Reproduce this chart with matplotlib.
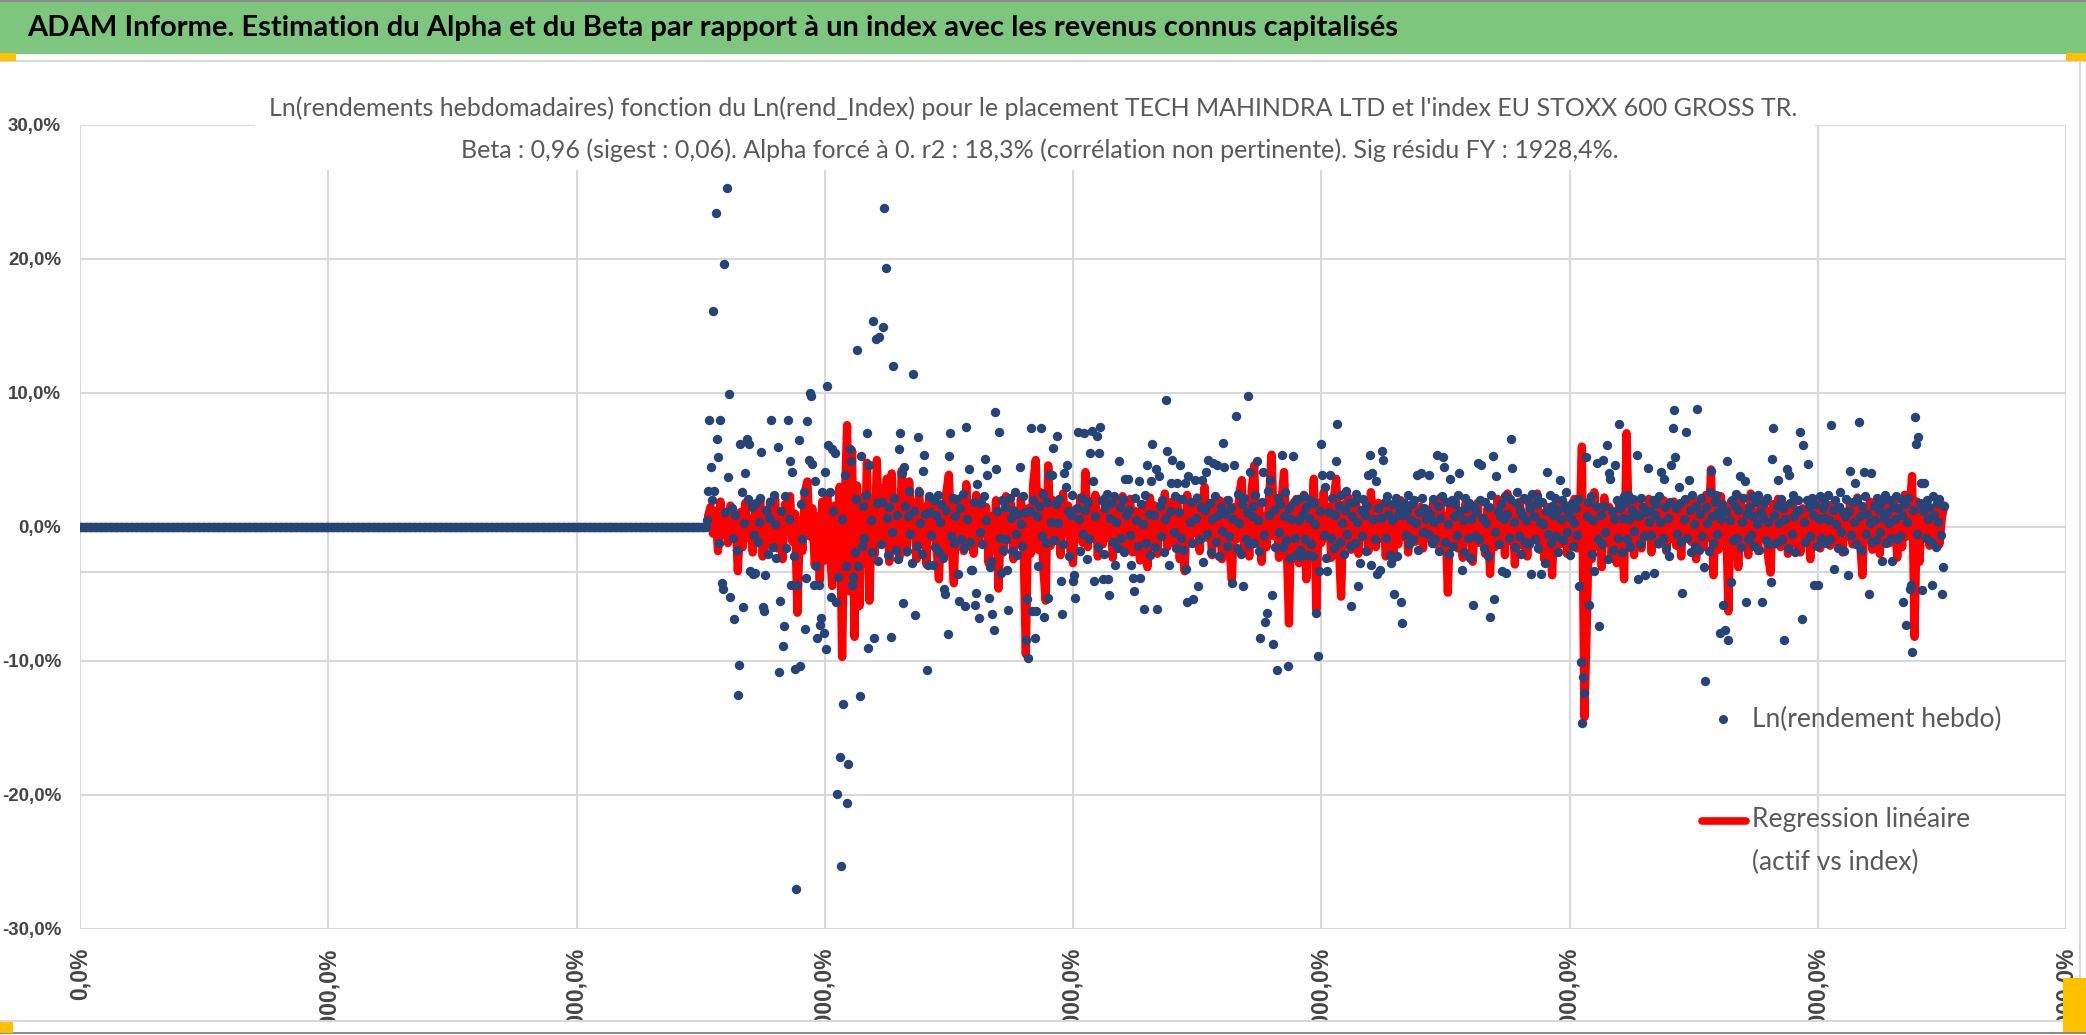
import numpy as np
import matplotlib
matplotlib.use("Agg")
import matplotlib.pyplot as plt
from matplotlib.lines import Line2D
from matplotlib.patches import Rectangle
from matplotlib.transforms import Bbox, TransformedBbox

plt.rcParams["font.family"] = ["Lato", "DejaVu Sans"]
NARROW = ["Liberation Sans Narrow", "Liberation Sans", "DejaVu Sans"]

W, H = 2086, 1035
BLUE = "#264478"
RED = "#ff0000"
GRID = "#d9d9d9"
TXT = "#595959"
TICK_TXT = "#454545"

# ── Data (all returns in %) ──────────────────────────────────────────────────
# flat part: no quotes yet, x = 0 .. 252 by half steps
flat_x_end = 252.0
flat_vals = [0.0] * 505

# Ln(rendement hebdo), x starts at 252.5, one value per half step
ln_rend_1 = [
    0.5, 2.7, 8.0, 4.5, 2.0, 16.1, 2.7, 23.4, 6.6, 5.2, -1.2, 8.0, -4.2, -4.6, 19.6, 1.1, 25.3, 3.7, 9.9, -5.2,
    1.4, -0.8, -6.9, 0.9, -1.7, -12.5, -10.3, 6.2, 2.6, -6.0, 0.3, 4.0, 6.6, 2.1, 6.2, -3.3, 1.5, -3.5, -0.6, -3.4,
    1.8, -1.1, 0.4, 2.2, 5.6, -6.0, -6.3, -3.6, 1.3, -2.0, 0.7, 1.9, 8.0, -1.5, 2.4, 0.2, -2.3, 6.0, -10.8, -5.5,
    1.2, -8.9, -7.4, 2.3, -1.6, 8.0, 0.6, 4.9, -4.3, 4.1, -2.2, -10.6, -27.0, -4.3, 6.5, -10.4, 1.7, -0.9, 2.6, -7.6,
    -3.8, 7.9, 5.0, 10.0, 9.8, 4.7, -4.3, 3.4, -2.9, -8.3, -4.3, -7.3, -6.8, 2.6, -7.9, 4.1, -9.1, 10.5, 6.1, 2.6,
    -5.2, 5.8, 1.2, 5.5, -5.6, -19.9, -3.7, -17.2, -25.3, 0.6, -13.2, 3.9, -2.9, -20.6, -17.7, 5.8, 4.9, -4.3, -3.7, -1.9,
    2.1, 13.2, -2.9, -12.6, 5.3, -1.4, 1.6, -0.8, 2.4, 7.0, -9.0, 4.6, 0.5, -1.9, 15.4, -8.3, 14.0, 1.8, -2.5, 14.2,
    -1.3, 1.9, 14.9, 23.8, 19.3, 0.7, -2.1, 1.5, -8.2, -0.4, 12.0, 2.2, -1.7, 0.9, -2.4, 5.8, 7.0, 4.0, -5.7, 4.5,
    1.6, -1.8, 0.8, 2.7, -0.5, -2.7, 11.4, 1.2, -6.6, -1.4, 6.7, 2.6, 0.3, -2.0, 4.2, 5.4, 1.0, -10.7, -2.8, 2.3,
    1.1, -0.6, -2.8, 2.0, -1.5, 0.9, 2.4, -1.9, 0.4, 1.7, -2.3, -4.6, -5.0, 1.3, -8.0, 5.3, 7.0, -0.7, 2.2, -1.2,
]
ln_rend_2 = [
    0.8, 2.1, -3.5, -5.5, 1.4, -0.9, 2.5, -1.6, -5.9, 7.5, 0.6, 4.3, -1.1, -3.2, -3.2, 1.9, -5.8, -4.9, 3.2, -6.8,
    -0.4, 1.8, -1.3, 2.3, 5.1, 0.5, 3.9, -5.3, -3.0, -2.5, -6.5, -7.7, 8.6, 4.3, 1.2, 7.1, -0.8, -3.4, 2.0, -1.7,
    1.5, -0.9, -3.2, -6.2, 2.2, 0.7, -1.8, 1.3, 2.6, -0.5, -2.1, 1.0, 4.5, 0.2, -1.4, 2.3, 1.1, -8.4, -5.4, -9.8,
    1.2, 7.4, -6.3, 2.0, -8.3, -6.3, 0.8, -2.9, 1.6, 7.4, -0.7, 2.5, -6.7, -1.2, 1.9, -5.3, 3.9, 0.4, 3.9, 5.9,
    -1.0, 1.7, 6.8, 0.3, 2.1, -4.0, -6.5, -1.3, 4.0, 3.0, 4.6, 1.2, -2.2, 0.9, 2.4, -4.0, -3.6, -5.3, 1.4, 7.1,
    0.6, -1.8, 2.2, -0.5, 7.0, 1.3, -2.4, 1.9, -0.9, 5.5, 7.2, 3.4, -4.0, 0.8, 6.8, -1.5, 5.5, 7.5, 2.0, -3.9,
    -2.0, 1.4, 2.5, -3.9, -5.1, 0.7, 1.8, -1.1, 2.3, -2.8, 0.4, -1.6, 4.9, 1.5, -0.8, 2.1, -1.9, 3.6, 0.9, 3.6,
    1.3, -0.6, -2.8, -3.8, -4.8, 2.2, 0.5, -1.4, 3.4, -3.8, 1.7, 0.2, -6.1, 2.4, -1.2, 4.6, 1.0, -2.1, 3.4, 6.2,
    0.9, -1.5, 4.3, -6.1, 3.8, 1.6, -0.7, 2.0, -1.9, 0.6, 9.5, 5.7, -2.8, 1.2, 3.3, 5.0, -0.4, 2.3, -1.6, 3.3,
    1.1, 4.6, -0.8, 2.1, -1.7, 3.3, -3.1, -5.6, 3.8, 0.4, 1.9, -1.2, -5.4, 3.5, 0.7, 2.2, -4.4, -0.9, 1.5, 3.5,
]
ln_rend_3 = [
    -2.6, 1.3, 4.1, -0.5, 5.0, 1.8, -1.9, 0.6, 4.8, 2.3, -1.1, 4.6, 0.9, -2.2, 1.5, -0.3, 6.3, 4.5, 1.0, -1.4,
    2.0, -0.7, 1.4, -4.2, 0.6, 4.6, 8.3, -1.6, 2.5, 0.3, -2.0, 1.7, -4.4, 2.2, -0.9, 1.1, 9.8, -1.3, 4.1, 0.8,
    1.6, -1.2, 2.4, 4.9, 0.5, -1.8, -8.3, 1.9, 4.1, -0.6, -7.1, -6.4, 2.7, 0.9, 3.5, -5.1, -8.7, 1.3, -1.5, -10.7,
    2.2, -0.4, 1.7, 5.4, -1.5, 0.8, 2.6, -1.0, -10.4, 1.4, -2.3, 0.6, 5.3, 1.9, -0.8, -2.1, 2.1, 0.5, -1.7, -2.2,
    1.0, 2.3, -0.9, 1.5, -2.1, 0.7, 2.0, -1.3, -2.2, 1.8, 0.2, -6.4, -9.6, -3.3, 1.2, 6.2, 3.9, -0.6, 3.0, -2.3,
    -3.3, 1.1, 3.9, -0.8, 2.2, -1.6, 0.9, 4.9, 7.7, 1.6, -1.1, 2.4, 0.3, -2.0, 1.3, 2.7, -0.5, 1.8, -1.4, -5.9,
    0.8, 1.9, -1.2, 2.5, 0.4, -4.4, -2.7, 1.3, -0.7, 2.1, 0.9, -1.8, 1.6, 3.9, 5.4, -2.8, 4.0, 0.6, -0.9, 3.4,
    -3.5, 1.4, -3.2, 0.7, 5.7, 5.0, 1.9, -0.8, 2.3, 1.0, -2.1, -2.7, 0.5, 1.7, -5.0, 2.2, -2.2, 0.9, 1.5, -5.6,
    -7.2, 0.9, 1.8, -0.6, 1.2, 2.4, -1.3, 0.5, 1.7, -0.9, 2.0, 0.3, 3.9, -1.7, 1.1, 4.0, 2.2, -0.4, 1.4, 0.6,
    1.3, -0.5, 3.9, 1.0, -1.2, 2.1, 0.4, -0.9, 5.4, 1.6, -1.8, 0.7, 2.3, 5.2, 4.5, -1.1, 1.9, 0.2, -2.0, 3.6,
]
ln_rend_4 = [
    2.0, -1.4, 0.8, 1.7, -0.6, 2.4, 4.0, 1.2, -3.2, 0.5, -1.9, 2.2, 1.4, -0.8, 1.8, -2.3, 0.6, -5.8, 1.5, -0.7,
    1.1, 4.8, -0.9, 2.0, 4.6, 0.7, -1.6, 1.9, 0.3, -2.2, 1.5, -6.7, 2.4, 5.3, -5.4, -0.4, 3.8, 1.2, -1.3, 0.8,
    1.7, -3.3, 0.6, 2.3, -3.4, 1.0, -0.8, 2.1, 6.6, 4.4, 0.4, -1.5, 1.8, 2.6, -0.7, 1.3, -2.0, 0.9, 2.2, -1.1,
    0.5, 2.0, -1.3, 1.4, -3.5, 2.5, 0.8, -0.9, 1.7, 2.3, -1.6, 0.4, -3.5, 1.9, 0.2, -2.7, 1.2, 4.1, -0.5, 2.4,
    -1.2, 1.6, 0.9, 2.2, -0.7, 1.3, -1.9, 3.5, 0.6, 2.0, -1.0, 1.5, 2.6, -0.4, 1.1, -2.1, 0.7, 1.8, -1.4, 0.3,
    1.4, -0.6, 2.1, -4.4, -10.1, -14.6, -11.2, -12.4, 5.2, 0.8, 1.9, -5.8, 2.3, -2.0, 0.5, -3.3, 1.6, 4.8, -0.9, -7.4,
    0.9, -1.3, 5.0, 1.6, -0.4, 6.1, -2.4, 4.0, 3.6, 1.2, -1.7, 0.6, 4.6, 2.0, -0.8, 7.7, 1.4, -1.9, 0.7, 2.3,
    1.8, -0.9, 2.4, 0.6, -1.5, 1.3, 2.1, -0.3, 1.0, 5.4, -3.9, 0.8, -1.3, 2.2, 1.5, -0.7, -3.6, 1.1, 4.4, 0.4,
    1.2, -0.6, 2.0, -3.4, 0.9, 1.7, -1.2, 2.3, 0.4, 4.1, -0.8, 3.6, 1.5, -1.6, 0.7, -2.2, 1.9, 4.6, 7.4, 8.7,
    5.2, 1.4, -0.5, 3.0, 1.8, -1.1, -4.9, 0.6, 2.1, 7.1, -0.8, 3.5, 1.3, -1.9, 2.4, 0.2, -1.4, 1.6, 8.8, -1.7,
]
ln_rend_5 = [
    1.0, 2.2, -0.7, -3.0, -11.5, 1.5, 0.3, -1.8, 2.6, 4.2, 0.8, -1.2, 1.9, 2.4, -0.5, 1.1, -7.9, 0.6, 1.7, -5.8,
    -7.7, 1.2, 4.9, -8.4, 0.5, -4.1, 2.0, -1.0, 1.6, 2.5, -0.8, 1.3, 3.8, -1.5, 0.4, 2.2, 3.4, -5.6, 1.0, -0.9,
    1.5, -0.6, 2.3, 0.8, -1.4, 1.9, 0.2, 2.4, -1.7, 1.1, -5.6, 0.7, 1.8, -1.0, 2.2, 0.4, -1.3, -4.1, 5.1, 7.4,
    0.9, -1.2, 1.6, 3.5, 0.3, 2.1, -0.9, 1.4, -8.4, 0.6, 4.3, -1.6, 3.9, 1.8, -0.5, 2.4, 0.8, -1.9, 1.2, 2.0,
    1.3, 7.1, -6.9, 6.1, 0.4, -1.1, 2.0, 4.7, 1.5, -0.7, 2.2, 0.9, -4.3, 1.7, -1.4, -4.3, 0.6, 2.3, -0.8, 1.4,
    0.7, 1.8, -1.2, 2.4, 0.5, -0.9, 7.6, 1.3, -3.1, 2.0, 0.2, -1.6, 1.5, 2.6, -0.4, 1.1, -1.8, 0.8, 2.1, -3.6,
    1.2, 4.2, -0.6, 1.9, 0.4, 3.3, -1.3, 2.1, 7.8, 0.8, -1.7, 1.6, 4.1, 2.3, -0.5, 1.0, -5.0, 0.3, 4.0, -1.1,
    1.6, 0.5, -1.0, 2.2, 1.3, -0.4, 1.9, -2.5, 0.7, 2.4, -1.2, 1.1, 0.3, 2.0, -0.8, -2.5, 1.5, 0.6, 2.3, -0.9,
    1.4, -0.7, 2.1, 0.9, -5.6, 1.7, -7.3, 0.4, 2.2, -4.6, -4.3, -9.3, 1.3, 8.2, 6.2, -0.5, 6.7, 1.8, 3.3, -4.7,
    1.2, 3.3, -0.8, 2.0, 0.6, 1.5, -1.1, -4.3, 2.3, 0.9, -1.5, 1.8, 0.4, 2.1, -0.6, -5.0, -3.0, 1.6,
]
ln_rend_x0 = 252.5

# Regression linéaire (beta * index), one value per week, with start week
reg_a_start, reg_a = 253, [
    0.8, 1.5, -0.5, 1.2, -1.8, 1.9, -0.6, 1.0, -1.2, 1.6,
    -0.4, 0.9, -3.3, 1.1, -1.5, 1.8, -0.8, 0.6, -1.9, 1.3,
    -0.2, 2.0, -2.2, 0.7, -1.4, 1.9, -0.9, 2.1, -1.6, 0.4,
    -2.4, 1.7, -0.3, 2.3, -1.1, 1.0, -6.4, 0.5, -1.8, 2.6,
    3.4, -0.7, 1.4, -2.9, 0.8, -4.0, 1.9, -2.5, 2.4, -1.3,
    -4.4, 1.6, -3.6, 3.0, -9.7, 1.2, 7.6, -4.8, 5.7, -8.2,
    3.1, -5.9, 2.2, -2.7, 4.8, -5.5, 1.5, -2.1, 5.0, -1.2,
    2.9, -0.8, 3.6, -2.6, 4.0, -1.5, 2.0, -2.3, 4.2, 0.6,
    -1.9, 3.4, -0.5, 1.8, -2.4, 2.7, -0.9, 1.5, -2.8, 2.1,
]
reg_b_start, reg_b = 343, [
    -0.7, 1.8, -1.5, -3.9, 1.2, -2.2, 2.6, 3.9, -1.0, -4.2,
    1.6, -0.6, 2.2, -1.8, 3.2, -0.9, 1.4, -2.0, 2.4, -1.2,
    1.9, -0.4, 1.5, -2.7, 0.8, -1.6, 2.0, -4.6, 1.1, -1.9,
    2.3, -0.8, 1.7, -2.4, 0.9, -1.1, 2.1, -0.5, -9.5, 1.4,
    -2.0, 3.3, 5.0, -1.7, 2.6, -3.0, -5.5, 4.6, -1.4, 2.0,
    -0.6, 1.8, -2.1, 2.5, -0.3, 1.6, -1.8, -2.7, 1.3, -0.9,
    2.2, -1.2, 4.1, -1.5, 1.9, -0.7, 2.4, -2.2, 1.0, -1.3,
    2.2, -0.8, 1.5, -2.3, 0.6, 1.8, -1.0, 2.3, -1.7, 0.9,
    2.1, -1.9, 1.2, -0.6, -2.5, 1.7, 0.4, -3.0, 2.2, -1.1,
    1.6, -2.0, 1.3, -0.7, 2.5, -1.5, 0.8, 1.9, -1.2, 2.2,
    -2.4, 1.0, -3.3, 2.4,
]
reg_c_start, reg_c = 447, [
    -1.2, 1.6, -0.4, 2.2, -1.8, 0.9, 3.0, -0.8, 1.4, -2.1,
    1.8, -0.5, 2.0, -2.4, 1.1, 2.0, -1.4, -4.0, 1.5, -0.9,
    2.5, 3.5, -1.6, 1.2, -2.2, 2.8, 4.6, -1.0, 1.7, -2.6,
    0.8, -1.5, 2.2, 5.4, -0.7, 1.4, -2.3, 1.9, 4.1, -0.5,
    -7.2, 1.6, -1.4, 2.1, -2.7, 0.9, 2.4, -3.9, 1.3, -0.6,
    3.6, -6.2, 1.8, -1.2, 2.6, -0.8, 1.5, -2.3, 2.0, 3.6,
    -1.1, -5.2, 1.7, -0.9, 2.2, -1.7, 0.7, 1.9, -2.0, 1.1,
    -0.6, 1.6, -1.8, 2.6, 0.3, -1.5, 1.8, -0.9, 1.3, -2.2,
    0.8, 1.7, -2.4, 1.0, -1.3, 2.0, -0.7, 1.4, -1.9, 0.9,
    1.6, -1.1, 0.5, 1.5, -1.6, 0.8, 1.2, -0.9, 1.7, -1.3,
    0.6,
]
reg_d_start, reg_d = 548, [
    2.2, -1.3, 0.8, -4.9, 1.5, -0.7, 2.0, -1.6, 1.1, -2.3,
    1.7, -0.5, 1.3, -2.6, 0.9, 1.8, -1.2, 0.6, -2.0, 1.4,
    -3.5, 1.0, -1.5, 2.1, -0.8, 1.2, -2.1, 2.5, -1.0, 1.6,
    -2.8, 0.7, 1.9, -1.4, 0.5, -2.2, 1.8, -0.9, 1.3, 2.5,
    -1.7, 0.8, -2.5, 1.5, -0.6, -3.6, 1.2, 2.0, -1.3, 0.9,
    1.7, -2.0, 1.1, -0.8, 2.1, -1.6, -0.5, 6.0, -14.2, -7.0,
    1.8, -2.4, 2.6, -1.5, 1.0, -3.0, 2.2, -0.9, 1.5, -2.2,
    0.6, -2.7, 1.9, -0.4, -3.9, 7.0, -1.2, 2.0, -2.1, 0.7,
    1.8, -1.6, 1.1, -0.5, 2.1, -1.9, 0.9, 1.4, -1.3, 0.6,
    2.0, -1.8, 1.2, -0.9, 1.9, -1.4, 0.8, -2.2, 1.5, -0.6,
]
reg_e_start, reg_e = 648, [
    1.6, -1.1, 2.0, -2.4, 0.7, 1.8, -1.5, 2.4, -0.8, 4.3,
    -3.6, 1.2, -1.7, 2.3, -0.9, 1.5, -6.3, 1.9, -1.2, 0.8,
    -3.0, 2.2, -0.6, 1.4, -2.1, 2.5, -0.9, 1.1, -1.8, 2.0,
    -0.4, 1.3, -2.2, -3.4, 1.7, -0.7, 2.1, -1.5, 0.9, 1.6,
    -2.0, 0.5, 1.9, -1.3, 0.8, -1.9, 1.4, -0.6, 1.0, -2.4,
    1.5, -0.8, 1.2, -1.6, 2.0, -0.5, 0.9, -1.4, 1.7, -1.1,
    0.6, 1.5, -1.9, 1.1, -0.7, 1.8, -1.3, 0.4, 2.2, -1.0,
    -3.6, 1.4, -0.5, 1.9, -1.7, 0.8, 1.3, -2.0, 1.6, -0.9,
    2.1, -1.2, 0.5, 1.7, -2.3, 1.0, -1.5, 2.4, -0.7, 1.2,
    3.8, -8.2, 1.9, -2.6, 1.4, -0.6, 1.8, -1.4, 1.1, -0.9,
    1.6, -1.3, 0.7, 1.6,
]

x_ticks = [0, 100, 200, 300, 400, 500, 600, 700, 800]
y_ticks = [-0.3, -0.2, -0.1, 0.0, 0.1, 0.2, 0.3]

header = ("ADAM Informe. Estimation du Alpha et du Beta par rapport à un index "
          "avec les revenus connus capitalisés")
title_1 = ("Ln(rendements hebdomadaires) fonction du Ln(rend_Index) pour le placement "
           "TECH MAHINDRA LTD et l'index EU STOXX 600 GROSS TR.")
title_2 = ("Beta : 0,96 (sigest : 0,06). Alpha forcé à 0. r2 : 18,3% "
           "(corrélation non pertinente). Sig résidu FY : 1928,4%.")


def pct(v):
    return f"{v * 100:.1f}%".replace(".", ",")


def fx(px):
    return px / W


def fy(py):
    return 1 - py / H


# ── Assemble series ─────────────────────────────────────────────────────────
flat_x = np.linspace(0, flat_x_end, len(flat_vals))
rend = np.array(ln_rend_1 + ln_rend_2 + ln_rend_3 + ln_rend_4 + ln_rend_5) / 100
rend_x = ln_rend_x0 + 0.5 * np.arange(len(rend))

reg_x, reg_y = [], []
for start, vals in [(reg_a_start, reg_a), (reg_b_start, reg_b), (reg_c_start, reg_c),
                    (reg_d_start, reg_d), (reg_e_start, reg_e)]:
    reg_x.extend(start + np.arange(len(vals)))
    reg_y.extend(np.array(vals) / 100)

# ── Figure ──────────────────────────────────────────────────────────────────
fig = plt.figure(figsize=(W / 100, H / 100), dpi=100, facecolor="white")

# header banner + frame
fig.add_artist(Rectangle((0, fy(54)), 1, 54 / H, transform=fig.transFigure,
                         facecolor="#7dc67e", edgecolor="none", zorder=0))
fig.text(fx(27), fy(28), header, fontsize=21, fontweight="bold", color="black",
         va="center", ha="left")
for x0, x1, y in [(0, W, 1), (0, W, 1033)]:
    fig.add_artist(Line2D([fx(x0), fx(x1)], [fy(y), fy(y)], transform=fig.transFigure,
                          color="#8c8c8c", lw=1.5))
for xs, ys in [([0, W], [61, 61]), ([2080, 2080], [61, 1021]), ([0, 2080], [1021, 1021])]:
    fig.add_artist(Line2D([fx(v) for v in xs], [fy(v) for v in ys],
                          transform=fig.transFigure, color=GRID, lw=1.5))
for (x0, y0, x1, y1) in [(0, 53, 16, 61), (2066, 53, W, 61), (0, 1022, 13, 1033),
                         (2063, 978, W, 1032)]:
    fig.add_artist(Rectangle((fx(x0), fy(y1)), (x1 - x0) / W, (y1 - y0) / H,
                             transform=fig.transFigure, facecolor="#ffc000",
                             edgecolor="none", zorder=5))

# plot area
ax = fig.add_axes([fx(80), fy(929), (2066 - 80) / W, (929 - 125) / H])
ax.set_xlim(0, 800)
ax.set_ylim(-0.30, 0.30)
for s in ax.spines.values():
    s.set_visible(False)
ax.grid(True, color=GRID, lw=1.5)
ax.set_axisbelow(True)
ax.axhline(-0.0333, color=GRID, lw=1.5, zorder=0.5)

ax.plot(reg_x, reg_y, color=RED, lw=6, solid_joinstyle="round",
        solid_capstyle="round", zorder=2)
ax.scatter(flat_x, flat_vals, s=46, color=BLUE, linewidths=0, zorder=3)
ax.scatter(rend_x, rend, s=46, color=BLUE, linewidths=0, zorder=3)

ax.set_yticks(y_ticks, labels=[pct(v) for v in y_ticks], fontsize=13.5,
              fontweight="bold", color=TICK_TXT, family=NARROW)
ax.set_xticks(x_ticks, labels=[pct(v) for v in x_ticks], fontsize=16.5, rotation=90,
              fontweight="bold", color=TICK_TXT, family=NARROW)
ax.tick_params(axis="both", length=0)
ax.tick_params(axis="y", pad=13.5)
ax.tick_params(axis="x", pad=13.5)

# x labels are cut by the bottom edge of the chart area
clip = TransformedBbox(Bbox.from_extents(0, 1 - 1021 / H, 1, 1), fig.transFigure)
for lab in ax.get_xticklabels():
    lab.set_clip_on(True)
    lab.set_clip_box(clip)

# chart title on a white box over the grid
fig.add_artist(Rectangle((fx(255), fy(170)), (1815 - 255) / W, (170 - 88) / H,
                         transform=fig.transFigure, facecolor="white",
                         edgecolor="none", zorder=1))
fig.text(fx(1033), fy(108), title_1, fontsize=18, color=TXT, ha="center", va="center")
fig.text(fx(1040), fy(150), title_2, fontsize=18, color=TXT, ha="center", va="center")

# legend
fig.add_artist(Line2D([fx(1723)], [fy(719)], marker="o", ms=5.5, color=BLUE,
                      linestyle="none", transform=fig.transFigure))
fig.text(fx(1752), fy(719), "Ln(rendement hebdo)", fontsize=19, color=TXT, va="center")
fig.add_artist(Line2D([fx(1702), fx(1746)], [fy(821), fy(821)], color=RED, lw=5.5,
                      solid_capstyle="round", transform=fig.transFigure))
fig.text(fx(1752), fy(820), "Regression linéaire", fontsize=19, color=TXT, va="center")
fig.text(fx(1752), fy(862), "(actif vs index)", fontsize=19, color=TXT, va="center")

fig.savefig("out.png", dpi=100, facecolor="white")
